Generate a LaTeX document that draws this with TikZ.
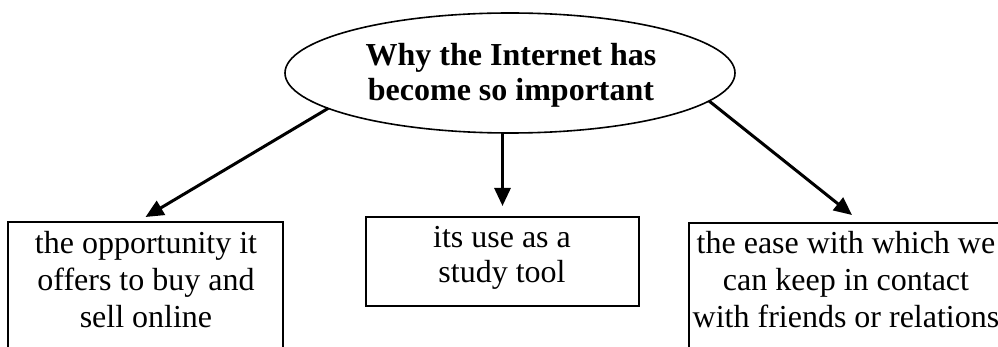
\documentclass[tikz,border=0pt]{standalone}
\usepackage{fontspec}
\setmainfont{Liberation Serif}
\usetikzlibrary{shapes.geometric,arrows.meta}
\begin{document}
\begin{tikzpicture}[x=1pt,y=-1pt,
  boxtext/.style={align=center,font=\fontsize{32}{37}\selectfont,inner sep=0pt,anchor=north},
  titletext/.style={align=center,font=\fontsize{32}{35}\selectfont\bfseries,inner sep=0pt,anchor=north},
  frame/.style={draw,line width=1.6pt,inner sep=0pt,outer sep=0pt},
  conn/.style={line width=3pt,-{Triangle[length=18pt,width=16pt]}}]
\useasboundingbox (0,0) rectangle (998,347);
% root ellipse
\node[frame,ellipse,minimum width=450pt,minimum height=120pt] (root) at (510,73) {};
\node[titletext] (roottext) at (511,43) {Why the Internet has\\become so important};
% boxes
\node[frame,rectangle,minimum width=275pt,minimum height=140pt] (b1) at (145.5,292) {};
\node[boxtext] (t1) at (146,231) {the opportunity it\\offers to buy and\\sell online};
\node[frame,rectangle,minimum width=273pt,minimum height=89pt] (b2) at (502.5,261.5) {};
\node[boxtext,font=\fontsize{32}{35}\selectfont] (t2) at (502,226) {its use as a\\study tool};
\node[frame,rectangle,minimum width=316pt,minimum height=140pt] (b3) at (847,293) {};
\node[boxtext] (t3) at (846,231) {the ease with which we\\can keep in contact\\with friends or relations};
% connector ends
\coordinate (e1) at ([yshift=5pt]b1.north);
\coordinate (e2) at ([yshift=11pt]b2.north);
\coordinate (e3) at ([xshift=5pt,yshift=8pt]b3.north);
\draw[conn] (root.191.5) -- (e1);
\draw[conn] (root.south -| e2) -- (e2);
\draw[conn] (root.352) -- (e3);
\end{tikzpicture}
\end{document}
